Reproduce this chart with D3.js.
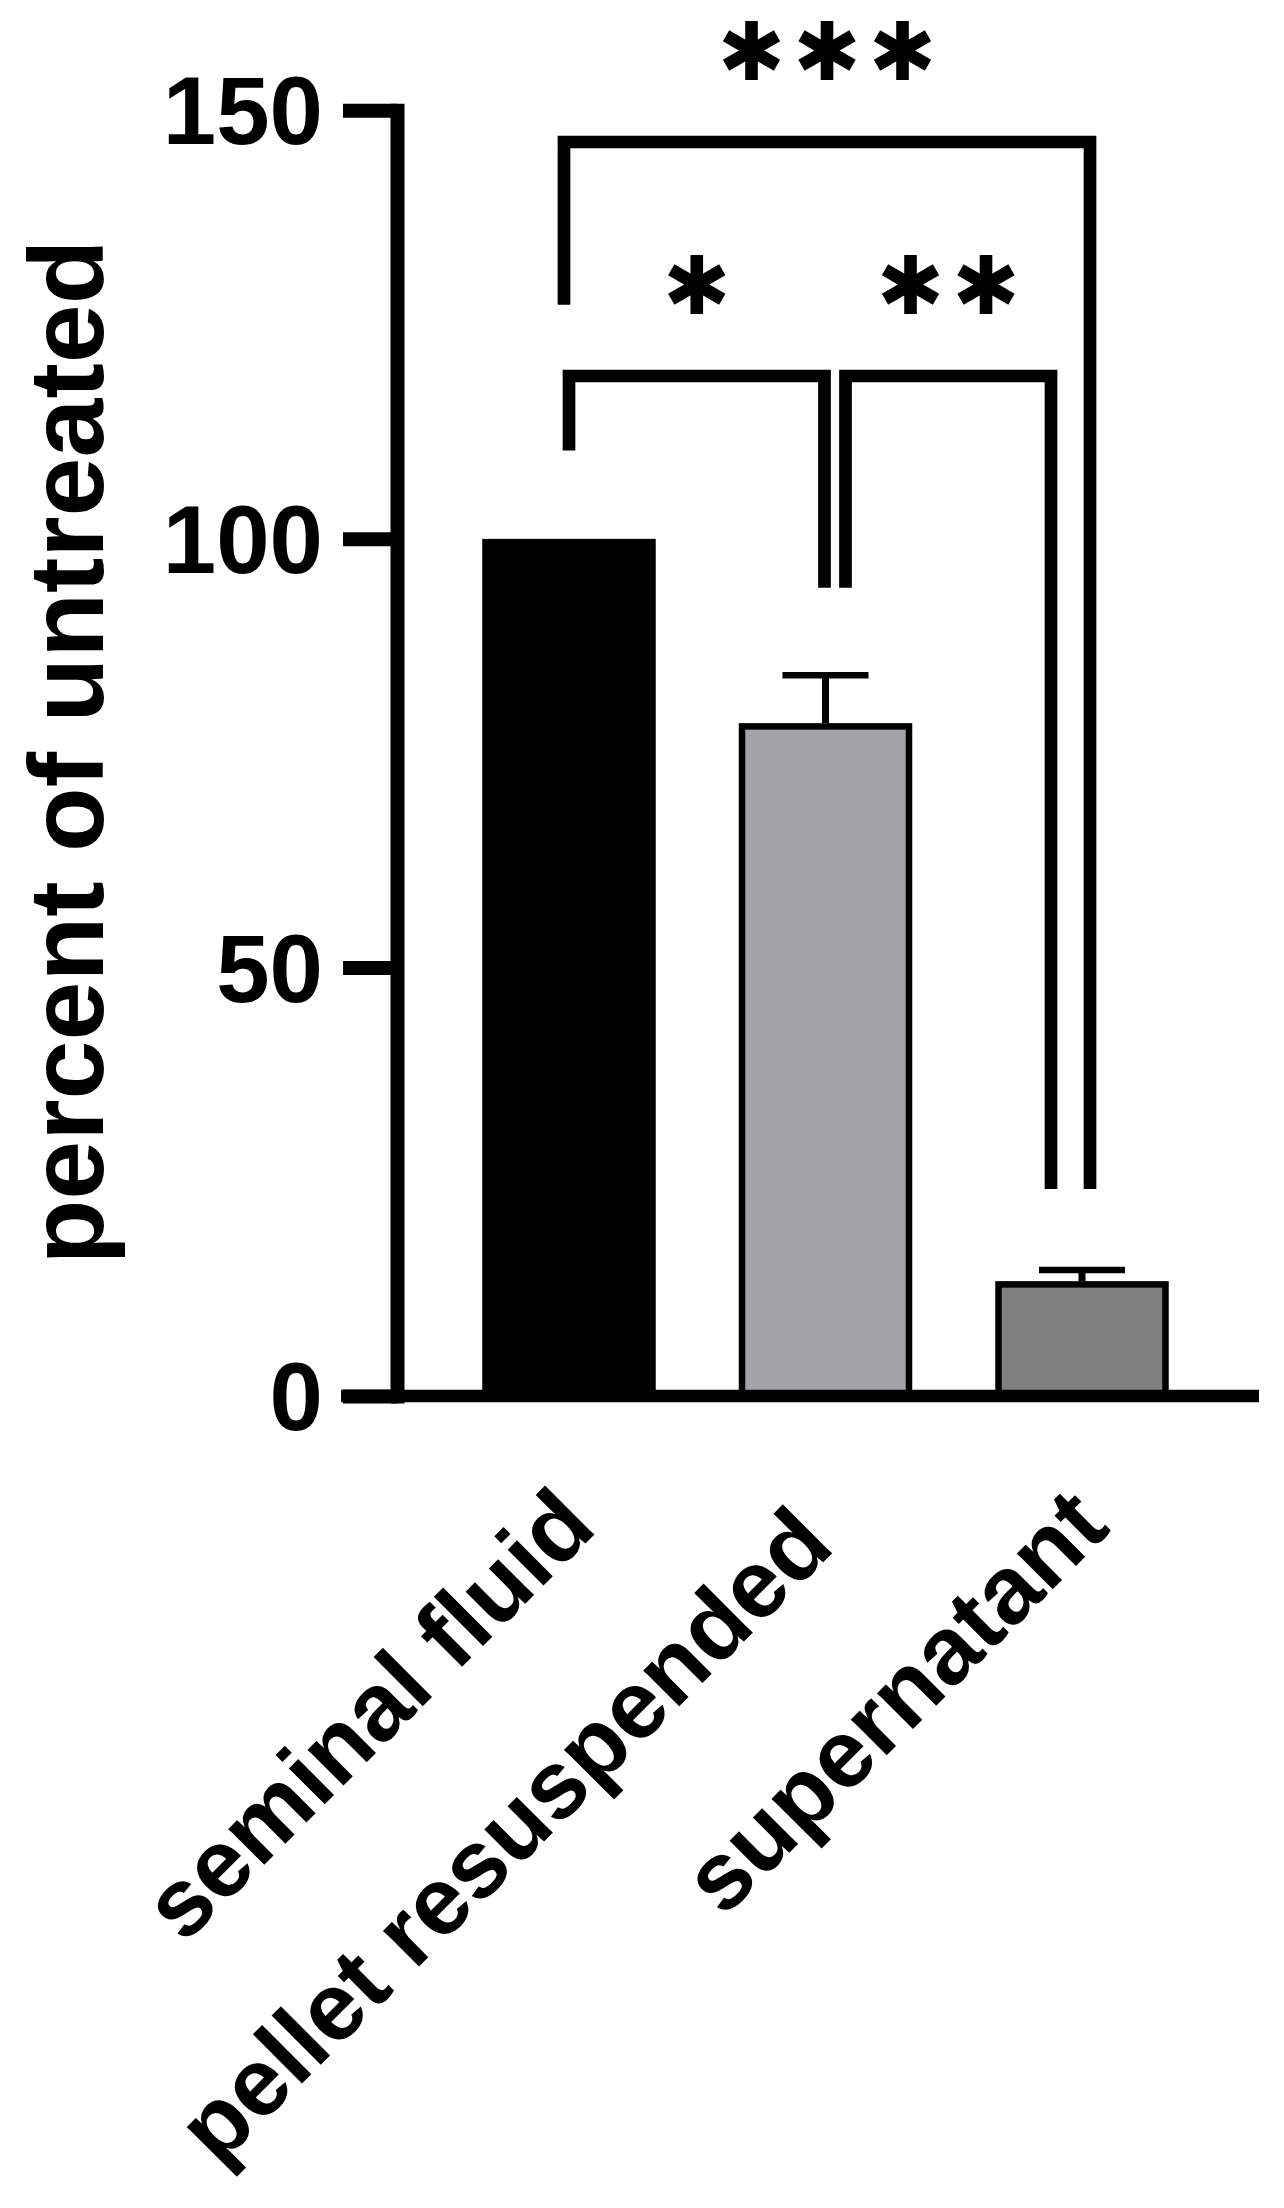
<!DOCTYPE html>
<html>
<head>
<meta charset="utf-8">
<script src="https://cdn.jsdelivr.net/npm/d3@7"></script>
<style>
  html, body { margin: 0; padding: 0; background: #ffffff; }
  svg { display: block; }
</style>
</head>
<body>
<svg id="chart" width="1284" height="2208"></svg>
<script>
// ---------------- data ----------------
const categories = ["seminal fluid", "pellet resuspended ", "supernatant"];
const meanValues = [100, 78.5, 13.4];
const semValues = [0, 5.6, 1.3];
const yTickValues = [0, 50, 100, 150];
const yTitle = "percent of untreated";

// significance comparisons
const compareFrom = [0, 1, 0];
const compareTo = [1, 2, 2];
const compareLabels = ["*", "**", "***"];
const bracketTops = [119.0, 119.0, 146.3];
const bracketLeftEnds = [110.3, 94.3, 127.3];
const bracketRightEnds = [94.3, 24.15, 24.15];

// ---------------- styles / layout ----------------
const barFills = ["#000000", "#a3a2a6", "#808080"];
const legOffsetsLeft = [0, 20, -5];
const legOffsetsRight = [-1, -31, 8];
const FONT = "'Liberation Sans', Arial, Helvetica, sans-serif";

const svg = d3.select("#chart");

const y = d3.scaleLinear().domain([0, 150]).range([1396, 110.3]);
const x = d3.scaleBand()
  .domain(categories)
  .range([440.75, 1210.25])
  .paddingInner(0.349)
  .paddingOuter(0.1745);

const axisX = 397;
const bw = x.bandwidth();
const barStroke = 6.5;

// ---------------- bars ----------------
const bars = categories.map((c, i) => ({ c, v: meanValues[i], s: semValues[i], fill: barFills[i] }));

svg.append("g").selectAll("rect")
  .data(bars)
  .join("rect")
  .attr("x", d => x(d.c))
  .attr("y", d => y(d.v) + barStroke / 2)
  .attr("width", bw)
  .attr("height", d => y(0) - y(d.v) - barStroke / 2)
  .attr("fill", d => d.fill)
  .attr("stroke", "#000")
  .attr("stroke-width", barStroke);

// ---------------- error bars ----------------
const eb = svg.append("g");
bars.filter(d => d.s > 0).forEach(d => {
  const cx = x(d.c) + bw / 2;
  eb.append("line")
    .attr("x1", cx).attr("x2", cx)
    .attr("y1", y(d.v)).attr("y2", y(d.v + d.s))
    .attr("stroke", "#000").attr("stroke-width", 7);
  eb.append("line")
    .attr("x1", cx - 43).attr("x2", cx + 43)
    .attr("y1", y(d.v + d.s)).attr("y2", y(d.v + d.s))
    .attr("stroke", "#000").attr("stroke-width", 6.5);
});

// ---------------- x axis line ----------------
svg.append("line")
  .attr("x1", 341).attr("x2", 1259)
  .attr("y1", y(0)).attr("y2", y(0))
  .attr("stroke", "#000").attr("stroke-width", 12.4);

// ---------------- y axis ----------------
const yAxis = svg.append("g")
  .attr("transform", `translate(${axisX},0)`)
  .call(d3.axisLeft(y).tickValues(yTickValues).tickSize(54).tickSizeOuter(0).tickPadding(20).tickFormat(d3.format("d")));
yAxis.select(".domain")
  .attr("stroke", "#000").attr("stroke-width", 14).attr("stroke-linecap", "square");
yAxis.selectAll(".tick line")
  .attr("stroke", "#000").attr("stroke-width", 14);
yAxis.selectAll(".tick text")
  .attr("fill", "#000")
  .attr("font-family", FONT)
  .attr("font-weight", "bold")
  .attr("font-size", 96)
  .attr("dy", "0.35em");

// ---------------- x axis labels ----------------
const xAxis = svg.append("g")
  .attr("transform", `translate(0,${y(0)})`)
  .call(d3.axisBottom(x).tickSize(0).tickSizeOuter(0));
xAxis.select(".domain").remove();
xAxis.selectAll(".tick text")
  .attr("fill", "#000")
  .attr("font-family", FONT)
  .attr("font-weight", "bold")
  .attr("font-size", 96)
  .attr("text-anchor", "end")
  .attr("x", 0).attr("y", 0).attr("dy", 0)
  .style("white-space", "pre")
  .attr("transform", "translate(30,134) rotate(-45)");

// ---------------- y title ----------------
svg.append("text")
  .attr("transform", `translate(103,752) rotate(-90)`)
  .attr("text-anchor", "middle")
  .attr("font-family", FONT)
  .attr("font-weight", "bold")
  .attr("font-size", 106)
  .attr("fill", "#000")
  .text(yTitle);

// ---------------- asterisk font choice (6-armed star like the reference) ----------------
const canvas = document.createElement("canvas");
canvas.width = 400; canvas.height = 400;
const ctx = canvas.getContext("2d", { willReadFrequently: true });

function glyphInfo(family, ch) {
  ctx.clearRect(0, 0, 400, 400);
  ctx.font = `bold 200px ${family}`;
  ctx.textBaseline = "alphabetic";
  ctx.fillStyle = "#000";
  const m = ctx.measureText(ch);
  const ox = 100, oy = 300;
  ctx.fillText(ch, ox, oy);
  const left = ox - m.actualBoundingBoxLeft, right = ox + m.actualBoundingBoxRight;
  const top = oy - m.actualBoundingBoxAscent, bottom = oy + m.actualBoundingBoxDescent;
  const w = right - left, h = bottom - top;
  if (!(w > 5 && h > 5)) return null;
  const img = ctx.getImageData(0, 0, 400, 400).data;
  const cx = (left + right) / 2, cy = (top + bottom) / 2;
  const r = 0.72 * Math.min(w, h) / 2;
  const N = 720;
  const on = [];
  for (let k = 0; k < N; k++) {
    const a = 2 * Math.PI * k / N;
    const px = Math.round(cx + r * Math.cos(a)), py = Math.round(cy + r * Math.sin(a));
    const alpha = (px >= 0 && px < 400 && py >= 0 && py < 400) ? img[(py * 400 + px) * 4 + 3] : 0;
    on.push(alpha > 128);
  }
  let arms = 0;
  for (let k = 0; k < N; k++) if (on[k] && !on[(k + N - 1) % N]) arms++;
  return {
    arms,
    inkH: h / 200, // per px of font-size
    descent: m.actualBoundingBoxDescent / 200,
    fontAscent: (m.fontBoundingBoxAscent || 180) / 200,
    centerOffset: ((m.actualBoundingBoxRight - m.actualBoundingBoxLeft) / 2 - m.width / 2) / 200
  };
}

const starCandidates = [
  ["'DejaVu Sans'", "*"], ["Inter", "*"], ["'Open Sans'", "*"], ["Lato", "*"],
  ["'Noto Sans'", "*"], ["Roboto", "*"], ["'DejaVu Sans'", "\u2731"], ["'Liberation Sans'", "*"]
];
const starInk = 59, starSpacing = 75.5;
let starChoice = null, firstSix = null;
for (const [fam, ch] of starCandidates) {
  const g = glyphInfo(fam, ch);
  if (!g) continue;
  if (g.arms === 6) {
    const fs = starInk / g.inkH;
    const cand = { fam, ch, g, fs };
    if (!firstSix) firstSix = cand;
    // top of the text box for the topmost (***) label must stay on the page
    const base = 80 - g.descent * fs;
    if (base - g.fontAscent * fs >= 0) { starChoice = cand; break; }
  }
}
if (!starChoice) starChoice = firstSix;
if (!starChoice) {
  const g = glyphInfo("'Liberation Sans'", "*");
  starChoice = { fam: "'Liberation Sans'", ch: "*", g, fs: starInk / g.inkH };
}

// ---------------- significance brackets ----------------
const br = svg.append("g");
compareLabels.forEach((lab, i) => {
  const xl = x(categories[compareFrom[i]]) + bw / 2 + legOffsetsLeft[i];
  const xr = x(categories[compareTo[i]]) + bw / 2 + legOffsetsRight[i];
  const top = y(bracketTops[i]);
  br.append("path")
    .attr("d", `M${xl},${y(bracketLeftEnds[i])}V${top}H${xr}V${y(bracketRightEnds[i])}`)
    .attr("fill", "none")
    .attr("stroke", "#000")
    .attr("stroke-width", 12.7)
    .attr("stroke-linejoin", "miter")
    .attr("stroke-linecap", "butt");

  const mid = (xl + xr) / 2;
  const inkBottom = top - 62;
  const fs = starChoice.fs;
  const baseline = inkBottom - starChoice.g.descent * fs;
  const shift = -starChoice.g.centerOffset * fs;
  const t = br.append("text")
    .attr("font-family", starChoice.fam)
    .attr("font-weight", "bold")
    .attr("font-size", fs)
    .attr("fill", "#000")
    .attr("text-anchor", "middle");
  const k = lab.length;
  for (let j = 0; j < k; j++) {
    t.append("tspan")
      .attr("x", mid + shift + (j - (k - 1) / 2) * starSpacing)
      .attr("y", baseline)
      .text(starChoice.ch);
  }
});
</script>
</body>
</html>
